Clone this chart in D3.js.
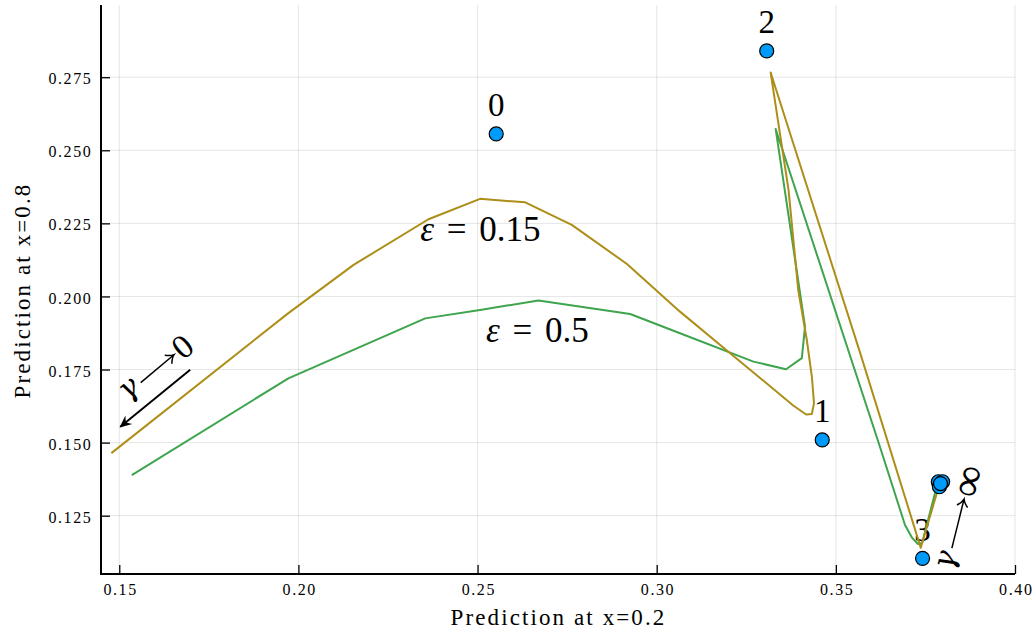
<!DOCTYPE html>
<html>
<head>
<meta charset="utf-8">
<script src="https://cdn.jsdelivr.net/npm/d3@7"></script>
<style>
  html, body { margin: 0; padding: 0; background: #fff; }
  svg { display: block; font-family: "Liberation Serif", serif; }
</style>
</head>
<body>
<svg id="chart" width="1034" height="638"></svg>
<script>
// ---------------- data ----------------
const xTicks = [0.15, 0.20, 0.25, 0.30, 0.35, 0.40];
const xTickLabels = ["0.15", "0.20", "0.25", "0.30", "0.35", "0.40"];
const yTicks = [0.125, 0.150, 0.175, 0.200, 0.225, 0.250, 0.275];
const yTickLabels = ["0.125", "0.150", "0.175", "0.200", "0.225", "0.250", "0.275"];

// epsilon = 0.15 curve (gold)
const eps015X = [0.1478, 0.1972, 0.2154, 0.2363, 0.2507, 0.2633, 0.2763, 0.2917, 0.3065, 0.3205,
                 0.3381, 0.3417, 0.3433, 0.3439, 0.3433, 0.3419, 0.3395, 0.3368, 0.3318,
                 0.3568, 0.3737, 0.3786];
const eps015Y = [0.1464, 0.1943, 0.2108, 0.2264, 0.2334, 0.2322, 0.2245, 0.2111, 0.1948, 0.1806,
                 0.1627, 0.1596, 0.1598, 0.1635, 0.1726, 0.1851, 0.2022, 0.2364, 0.2766,
                 0.1806, 0.1140, 0.1345];
// epsilon = 0.5 curve (green)
const eps05X = [0.1535, 0.1972, 0.2354, 0.2507, 0.2670, 0.2926, 0.3065, 0.3270, 0.3361, 0.3405,
                0.3414, 0.3332, 0.3623, 0.3693, 0.3713, 0.3729, 0.3741, 0.3782];
const eps05Y = [0.1389, 0.1720, 0.1925, 0.1954, 0.1986, 0.1940, 0.1874, 0.1777, 0.1751, 0.1789,
                0.1897, 0.2573, 0.1486, 0.1218, 0.1174, 0.1153, 0.1157, 0.1352];

// labelled points
const pointX = [0.2552, 0.3462, 0.3307, 0.3742, 0.3786, 0.3798, 0.3789, 0.3792];
const pointY = [0.2556, 0.1509, 0.2840, 0.1104, 0.1366, 0.1366, 0.1349, 0.1360];
const pointLabels = ["0", "1", "2", "3", "", "", "", ""];

// annotations (data coordinates)
const curveLabelText = ["0.15", "0.5"];
const curveLabelX = [0.2508, 0.2667];
const curveLabelY = [0.2188, 0.1845];
const gammaLabelText = ["0", "∞"];
const gammaLabelX = [0.1603, 0.3840];
const gammaLabelY = [0.1754, 0.1233];
const gammaLabelAngle = [-40, -76];
const arrowFrom = [0.1698, 0.1749];
const arrowTo = [0.1503, 0.1554];

// ---------------- layout ----------------
const svg = d3.select("#chart");
const plot = { left: 101, right: 1015, top: 5, bottom: 574 };
const x = d3.scaleLinear().domain([0.1449, 0.40]).range([plot.left, plot.right]);
const y = d3.scaleLinear().domain([0.10505, 0.2997]).range([plot.bottom, plot.top]);

const colors = { gold: "#AC8E18", green: "#3EA44E", blue: "#009AFA" };

// grid
const grid = svg.append("g");
grid.selectAll("line.gx").data(xTicks).join("line")
  .attr("x1", d => x(d)).attr("x2", d => x(d))
  .attr("y1", plot.top).attr("y2", plot.bottom)
  .attr("stroke", "#000").attr("stroke-opacity", 0.1).attr("stroke-width", 1);
grid.selectAll("line.gy").data(yTicks).join("line")
  .attr("y1", d => y(d)).attr("y2", d => y(d))
  .attr("x1", plot.left).attr("x2", plot.right)
  .attr("stroke", "#000").attr("stroke-opacity", 0.1).attr("stroke-width", 1);

// axes via d3
const xAxis = d3.axisBottom(x).tickValues(xTicks).tickFormat((d, i) => xTickLabels[i])
  .tickSizeInner(-9).tickSizeOuter(0).tickPadding(20);
const yAxis = d3.axisLeft(y).tickValues(yTicks).tickFormat((d, i) => yTickLabels[i])
  .tickSizeInner(-9).tickSizeOuter(0).tickPadding(17);

const gx = svg.append("g").attr("transform", `translate(0,${plot.bottom})`).call(xAxis);
gx.select(".domain").remove();
gx.selectAll(".tick line").attr("stroke", "#000").attr("stroke-width", 1.3);
gx.selectAll(".tick text")
  .attr("y", 20.7).attr("dy", 0).attr("dx", 0.8)
  .attr("font-family", "Liberation Serif").attr("font-size", 16)
  .attr("letter-spacing", "1.6px").attr("fill", "#000");

const gy = svg.append("g").attr("transform", `translate(${plot.left},0)`).call(yAxis);
gy.select(".domain").remove();
gy.selectAll(".tick line").attr("stroke", "#000").attr("stroke-width", 1.3);
gy.selectAll(".tick text")
  .attr("x", -8.6).attr("dy", 0).attr("y", 6.6)
  .attr("font-family", "Liberation Serif").attr("font-size", 16)
  .attr("letter-spacing", "1.6px").attr("fill", "#000");

// axis spines
svg.append("line").attr("x1", plot.left).attr("x2", plot.left)
  .attr("y1", plot.top).attr("y2", plot.bottom + 1)
  .attr("stroke", "#000").attr("stroke-width", 2);
svg.append("line").attr("x1", plot.left - 1).attr("x2", plot.right)
  .attr("y1", plot.bottom).attr("y2", plot.bottom)
  .attr("stroke", "#000").attr("stroke-width", 2);

// axis titles
svg.append("text")
  .attr("x", (plot.left + plot.right) / 2 + 0.5).attr("y", 625)
  .attr("text-anchor", "middle").attr("font-size", 23).attr("letter-spacing", "2.1px")
  .text("Prediction at x=0.2");
svg.append("text")
  .attr("transform", `translate(29.5,${(plot.top + plot.bottom) / 2 + 1}) rotate(-90)`)
  .attr("text-anchor", "middle").attr("font-size", 23).attr("letter-spacing", "2.1px")
  .text("Prediction at x=0.8");

// point labels (drawn under the curves)
svg.append("g").selectAll("text").data(pointX.map((d, i) => i).filter(i => pointLabels[i] !== ""))
  .join("text")
  .attr("x", i => x(pointX[i])).attr("y", i => y(pointY[i]) - 17.5)
  .attr("text-anchor", "middle").attr("font-size", 33)
  .text(i => pointLabels[i]);

// curves
const line = d3.line().x(d => x(d[0])).y(d => y(d[1]));
svg.append("path").datum(eps05X.map((d, i) => [d, eps05Y[i]]))
  .attr("d", line).attr("fill", "none").attr("stroke", colors.green)
  .attr("stroke-width", 2).attr("stroke-linejoin", "round");
svg.append("path").datum(eps015X.map((d, i) => [d, eps015Y[i]]))
  .attr("d", line).attr("fill", "none").attr("stroke", colors.gold)
  .attr("stroke-width", 2).attr("stroke-linejoin", "round");

// points
svg.append("g").selectAll("circle").data(pointX.map((d, i) => i)).join("circle")
  .attr("cx", i => x(pointX[i])).attr("cy", i => y(pointY[i])).attr("r", 7)
  .attr("fill", colors.blue).attr("stroke", "#000").attr("stroke-width", 1.2);

// curve labels
curveLabelText.forEach((t, i) => {
  const tx = svg.append("text")
    .attr("x", x(curveLabelX[i])).attr("y", y(curveLabelY[i]))
    .attr("text-anchor", "middle").attr("font-size", 35).attr("word-spacing", "4px");
  tx.append("tspan").attr("font-style", "italic").text("ε");
  tx.append("tspan").text(" = " + t);
});

// gamma annotations: "γ → 0" and "γ → ∞", rotated
gammaLabelText.forEach((t, i) => {
  const half = i === 0 ? 34 : 41;       // distance of glyph centres from group centre
  const g = svg.append("g")
    .attr("transform", `translate(${x(gammaLabelX[i])},${y(gammaLabelY[i])}) rotate(${gammaLabelAngle[i]})`);
  g.append("text").attr("x", -half).attr("y", 0).attr("dy", "0.22em")
    .attr("text-anchor", "middle").attr("font-family", "DejaVu Serif")
    .attr("font-style", "italic").attr("font-size", 30).text("γ");
  const a0 = -half + 13, a1 = half - (i === 0 ? 12 : 19);
  g.append("line").attr("x1", a0).attr("x2", a1).attr("y1", 1).attr("y2", 1)
    .attr("stroke", "#000").attr("stroke-width", 1.5);
  g.append("path")
    .attr("d", `M${a1 - 7},-4.5 Q${a1 - 3},0 ${a1 + 0.5},1 Q${a1 - 3},2 ${a1 - 7},6.5`)
    .attr("fill", "none").attr("stroke", "#000").attr("stroke-width", 1.5);
  g.append("text").attr("x", half).attr("y", 0).attr("dy", "0.34em")
    .attr("text-anchor", "middle").attr("font-size", i === 0 ? 34 : 44).text(t);
});

// arrow
const defs = svg.append("defs");
defs.append("marker").attr("id", "ah").attr("viewBox", "-12 -6 14 12")
  .attr("refX", 0).attr("refY", 0).attr("markerWidth", 14).attr("markerHeight", 12)
  .attr("markerUnits", "userSpaceOnUse").attr("orient", "auto")
  .append("path").attr("d", "M1,0 L-11,-5.5 L-7,0 L-11,5.5 Z").attr("fill", "#000");
svg.append("line")
  .attr("x1", x(arrowFrom[0])).attr("y1", y(arrowFrom[1]))
  .attr("x2", x(arrowTo[0])).attr("y2", y(arrowTo[1]))
  .attr("stroke", "#000").attr("stroke-width", 2).attr("marker-end", "url(#ah)");
</script>
</body>
</html>
